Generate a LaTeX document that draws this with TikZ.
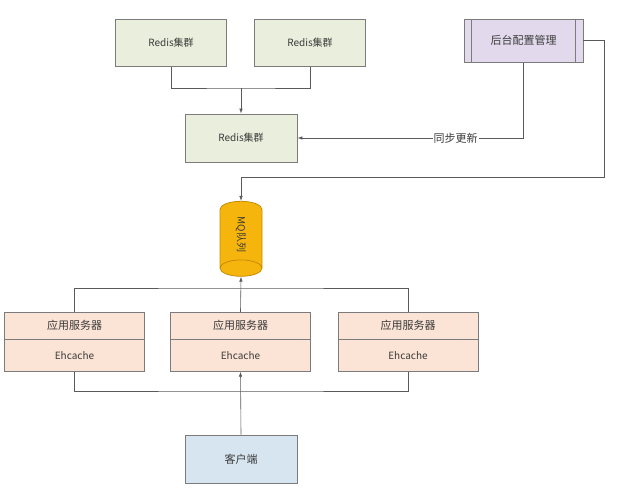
\documentclass[tikz,border=0pt]{standalone}
\usepackage{fontspec}
\setmainfont{Noto Sans CJK SC}
\usetikzlibrary{shapes.geometric,arrows.meta}
\definecolor{linegray}{HTML}{5A5A5A}
\definecolor{redisfill}{HTML}{E9EFDC}
\definecolor{mgrfill}{HTML}{E2DAEC}
\definecolor{srvfill}{HTML}{FBE4D6}
\definecolor{clifill}{HTML}{D7E5F1}
\definecolor{mqfill}{HTML}{F6B50C}
\definecolor{mqdraw}{HTML}{C68C00}
\definecolor{txtgray}{HTML}{3A3A3A}
\tikzset{
  box/.style={draw=linegray!80,line width=0.8pt,text=txtgray,inner sep=0pt},
  redisbox/.style={box,fill=redisfill,minimum width=111pt,minimum height=47pt,font=\fontsize{10}{12}\selectfont},
  srvtop/.style={box,fill=srvfill,minimum width=140pt,minimum height=27pt,font=\fontsize{11}{13}\selectfont},
  srvbot/.style={box,fill=srvfill,minimum width=140pt,minimum height=32pt,font=\fontsize{10}{12}\selectfont},
  conn/.style={draw=linegray,line width=0.6pt},
  arr/.style={conn,-{Latex[length=5pt,width=3.5pt]}}
}
\begin{document}
\begin{tikzpicture}[x=1pt,y=-1pt]
  \useasboundingbox (0,0) rectangle (640,493);
  \node[redisbox] (r1) at (171,43) {Redis集群};
  \node[redisbox] (r2) at (310,43) {Redis集群};
  \node[redisbox,minimum width=112pt,minimum height=48pt] (r3) at (241,138) {Redis集群};
  \node[box,fill=mgrfill,minimum width=119pt,minimum height=43pt,font=\fontsize{11}{13}\selectfont] (mgr) at (523.5,40.7) {后台配置管理};
  \draw[box] ([xshift=8pt]mgr.north west) -- ([xshift=8pt]mgr.south west);
  \draw[box] ([xshift=-8pt]mgr.north east) -- ([xshift=-8pt]mgr.south east);
  \node[cylinder,draw=mqdraw,fill=mqfill,line width=0.8pt,rotate=-90,minimum width=42pt,minimum height=75pt,aspect=1.6,inner sep=0pt,text=txtgray,font=\fontsize{10}{12}\selectfont] (mq) at (241,234.5) {MQ队列};
  \node[srvtop] (s1t) at (74.5,325.7) {应用服务器};
  \node[srvbot] (s1b) at (74.5,355.3) {Ehcache};
  \node[srvtop] (s2t) at (240.5,325.7) {应用服务器};
  \node[srvbot] (s2b) at (240.5,355.3) {Ehcache};
  \node[srvtop] (s3t) at (408,325.7) {应用服务器};
  \node[srvbot] (s3b) at (408,355.3) {Ehcache};
  \node[box,fill=clifill,minimum width=112pt,minimum height=48pt,font=\fontsize{11}{13}\selectfont] (cli) at (241,459) {客户端};
  \coordinate (jr) at (241,88);
  \coordinate (loopR) at (604,177);
  \coordinate (busT) at (240.5,288);
  \coordinate (busB) at (240.5,391);
  \draw[conn] (r1.south) |- (jr) -| (r2.south);
  \draw[arr] (jr) -- (r3.north);
  \draw[arr] (mgr.south) |- node[pos=0.65,fill=white,inner sep=1pt,text=txtgray,font=\fontsize{11}{13}\selectfont] {同步更新} (r3.east);
  \draw[arr] (mgr.east) -| (loopR) -| (mq.west);
  \draw[conn] (s1t.north) |- (busT) -| (s3t.north);
  \draw[arr] (s2t.north) -- (mq.east);
  \draw[conn] (s1b.south) |- (busB) -| (s3b.south);
  \draw[arr] (cli.north) -- (s2b.south);
\end{tikzpicture}
\end{document}
